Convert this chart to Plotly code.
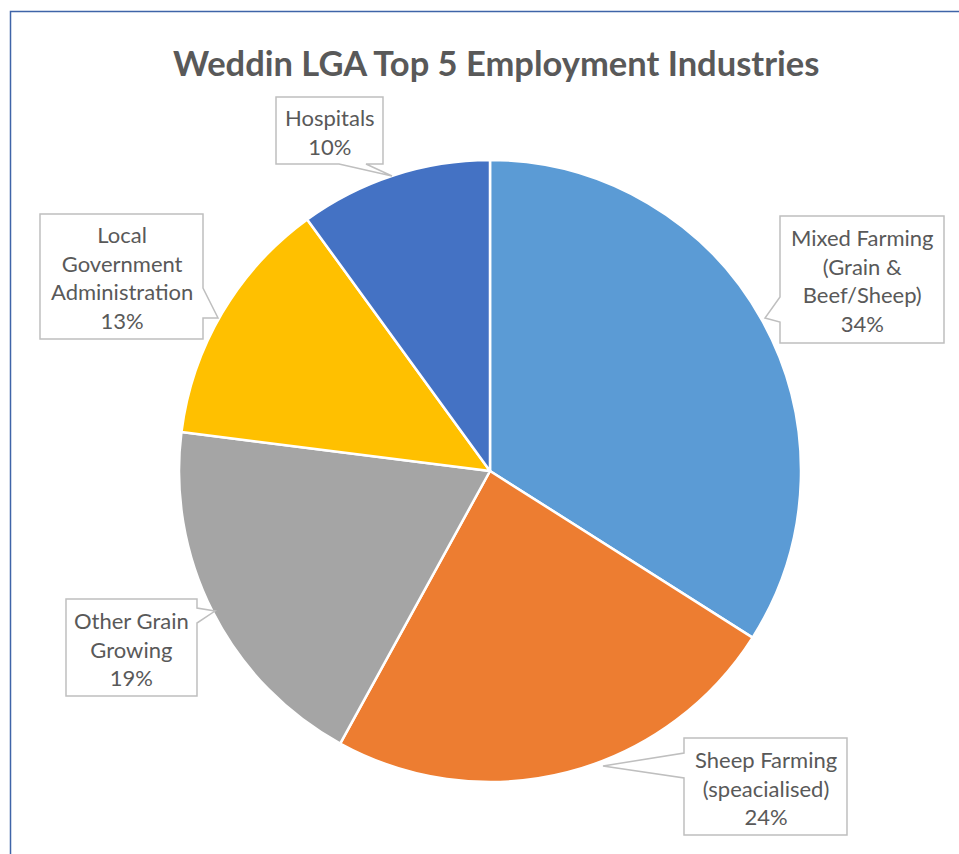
import plotly.graph_objects as go

# ---- data ----
categories = ["Mixed Farming\n(Grain &\nBeef/Sheep)", "Sheep Farming\n(speacialised)",
              "Other Grain\nGrowing", "Local\nGovernment\nAdministration", "Hospitals"]
values = [34, 24, 19, 13, 10]
colors = ["#5B9BD5", "#ED7D31", "#A5A5A5", "#FFC000", "#4472C4"]
title_text = "Weddin LGA Top 5 Employment Industries"

W, H = 959, 854
def px(x): return x / W
def py(y): return 1 - y / H

# pie placement (pixels)
cx, cy, r = 490, 471, 311

fig = go.Figure()
fig.add_trace(go.Pie(
    labels=[c.replace("\n", " ") for c in categories],
    values=values,
    sort=False, direction="clockwise", rotation=0,
    marker=dict(colors=colors, line=dict(color="white", width=2.5)),
    textinfo="none", hoverinfo="label+percent",
    domain=dict(x=[px(cx - r), px(cx + r)], y=[py(cy + r), py(cy - r)]),
    showlegend=False,
))

# callout geometry (pixels): box and outline polygon incl. pointer
callouts = [
    dict(box=(780, 216, 944, 343), path=[(780, 216), (944, 216), (944, 343), (780, 343), (780, 322), (765, 318), (780, 297)]),
    dict(box=(684, 738, 847, 835), path=[(684, 738), (847, 738), (847, 835), (684, 835), (684, 778), (603, 766), (684, 753)]),
    dict(box=(66, 599, 197, 696), path=[(66, 599), (197, 599), (197, 608), (215, 611), (197, 623), (197, 696), (66, 696)]),
    dict(box=(40, 214, 203, 339), path=[(40, 214), (203, 214), (203, 288), (218, 318), (203, 318), (203, 339), (40, 339)]),
    dict(box=(276, 97, 383, 164), path=[(276, 97), (383, 97), (383, 164), (366, 164), (392, 176), (339, 164), (276, 164)]),
]

shapes = []
annotations = []
for cat, val, co in zip(categories, values, callouts):
    pts = co["path"]
    d = "M " + " L ".join(f"{px(x):.5f},{py(y):.5f}" for x, y in pts) + " Z"
    shapes.append(dict(type="path", xref="paper", yref="paper", path=d,
                       line=dict(color="#BFBFBF", width=1.5), fillcolor="white", layer="above"))
    x0, y0, x1, y1 = co["box"]
    annotations.append(dict(
        x=px((x0 + x1) / 2), y=py((y0 + y1) / 2 + 1), xref="paper", yref="paper",
        xanchor="center", yanchor="middle", showarrow=False, align="center",
        text=cat.replace("\n", "<br>") + f"<br>{val}%",
        font=dict(family="Lato, Open Sans, sans-serif", size=22, color="#595959"),
    ))

annotations.append(dict(
    x=px(496), y=py(63), xref="paper", yref="paper", xanchor="center", yanchor="middle",
    showarrow=False, text=f"<b>{title_text}</b>",
    font=dict(family="Lato, Open Sans, sans-serif", size=34.5, color="#595959"),
))

# outer chart border
shapes.append(dict(type="rect", xref="paper", yref="paper",
                   x0=px(10.5), y0=py(880), x1=px(990), y1=py(11.5),
                   line=dict(color="#3F64A8", width=1.5), fillcolor="rgba(0,0,0,0)", layer="above"))

fig.update_layout(
    width=W, height=H, margin=dict(l=0, r=0, t=0, b=0),
    paper_bgcolor="white", plot_bgcolor="white",
    shapes=shapes, annotations=annotations,
)
fig.write_html("out.html")
